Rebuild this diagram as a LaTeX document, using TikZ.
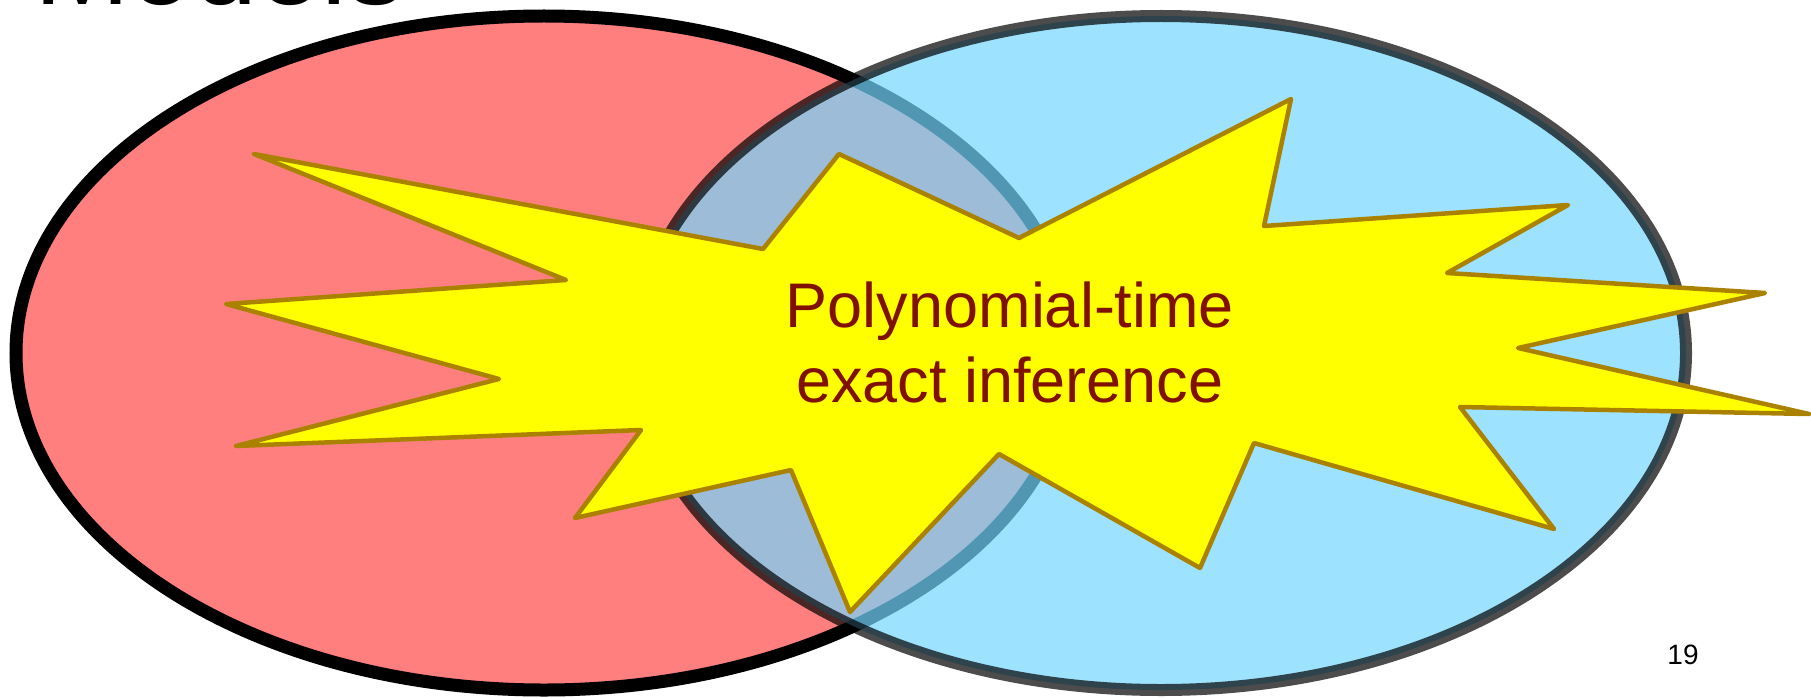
\documentclass[tikz,border=0pt]{standalone}
\usepackage{fontspec}
\setmainfont{Liberation Sans}
\usepackage{tikz}
\usetikzlibrary{positioning}
\definecolor{salmonred}{RGB}{255,127,127}
\definecolor{skyblue}{RGB}{116,214,255}
\definecolor{burstyellow}{RGB}{255,255,0}
\definecolor{burstgold}{RGB}{170,130,0}
\definecolor{darkmaroon}{RGB}{128,16,0}
\tikzset{
    every node/.style={inner sep=0pt},
    redset/.style={draw=black, line width=13pt, fill=salmonred},
    blueset/.style={draw=black, draw opacity=0.7, line width=12pt, fill=skyblue, fill opacity=0.7},
    burst/.style={draw=burstgold, line width=4.5pt, fill=burstyellow, line join=round},
    burstlabel/.style={text=darkmaroon, align=center, font=\fontsize{63}{75}\selectfont},
    titletext/.style={font=\fontsize{115}{130}\selectfont, anchor=base west},
    pagenum/.style={font=\fontsize{28}{32}\selectfont},
}

\begin{document}
\begin{tikzpicture}[x=1pt,y=-1pt]
\useasboundingbox (0,0) rectangle (1811,698);
\clip (0,0) rectangle (1811,698);
% title of the slide, cut off at the top
\node[titletext] (title) at (34,5) {Models};
% the two classes of models
\def\ry{337}
\draw[redset] (544,353) ellipse [x radius=528, y radius=\ry];
\draw[blueset] (1161,353) ellipse [x radius=525, y radius=\ry];
% burst over both
\draw[burst] (254,154) -- (763,249) -- (839,154) -- (1019,238) -- (1291,99)
  -- (1264,226) -- (1568,205) -- (1447,273) -- (1765,293) -- (1518,348)
  -- (1809,414) -- (1460,407) -- (1554,529) -- (1254,443) -- (1200,568)
  -- (999,454) -- (850,612) -- (791,470) -- (575,518) -- (641,430)
  -- (236,446) -- (499,379) -- (226,304) -- (566,280) -- cycle;
\node[burstlabel] (claim) at (1010,342) {Polynomial-time\\exact inference};
\node[pagenum] (page) at (1683,655) {19};
\end{tikzpicture}
\end{document}
